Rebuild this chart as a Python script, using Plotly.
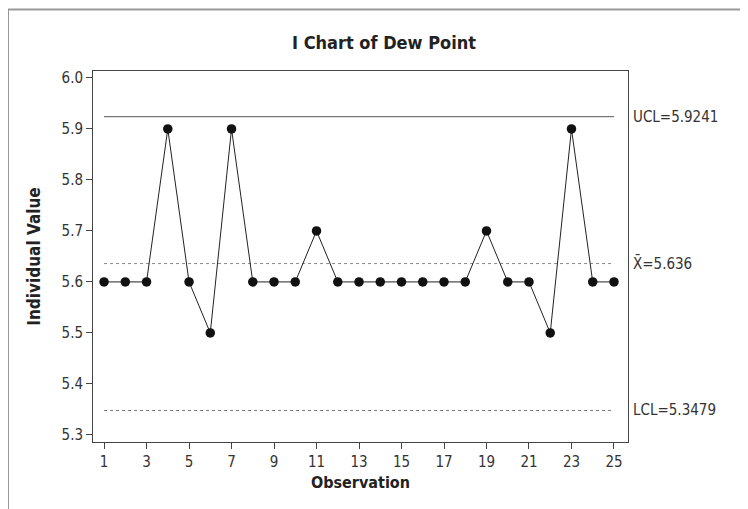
import plotly.graph_objects as go

observations = list(range(1, 26))
values = [5.6, 5.6, 5.6, 5.9, 5.6, 5.5, 5.9, 5.6, 5.6, 5.6, 5.7, 5.6, 5.6,
          5.6, 5.6, 5.6, 5.6, 5.6, 5.7, 5.6, 5.6, 5.5, 5.9, 5.6, 5.6]
ucl = 5.9241
center = 5.636
lcl = 5.3479
x_ticks = list(range(1, 26, 2))
y_ticks = [5.3, 5.4, 5.5, 5.6, 5.7, 5.8, 5.9, 6.0]

FONT = "Liberation Sans Narrow, Arial Narrow, DejaVu Sans Condensed, Liberation Sans, sans-serif"

fig = go.Figure()
# control limit lines
fig.add_trace(go.Scatter(x=[observations[0], observations[-1]], y=[ucl, ucl], mode="lines",
                         line=dict(color="#555555", width=1), hoverinfo="skip", showlegend=False))
fig.add_trace(go.Scatter(x=[observations[0], observations[-1]], y=[center, center], mode="lines",
                         line=dict(color="#888888", width=1, dash="dot"), hoverinfo="skip", showlegend=False))
fig.add_trace(go.Scatter(x=[observations[0], observations[-1]], y=[lcl, lcl], mode="lines",
                         line=dict(color="#777777", width=1, dash="dot"), hoverinfo="skip", showlegend=False))
# data
fig.add_trace(go.Scatter(x=observations, y=values, mode="lines+markers",
                         line=dict(color="#222222", width=1),
                         marker=dict(color="#111111", size=9.5),
                         showlegend=False))

# the page body has an 8px default margin; the figure is sized to fit the window
W, H = 740, 501
ml, mt = 85, 63
pw, ph = 535, 371
mr, mb = W - ml - pw, H - mt - ph


def px(x):
    return (x - ml) / pw


def py(y):
    return (H - mb - y) / ph


shapes = [
    dict(type="line", xref="paper", yref="paper", x0=px(0), x1=px(W), y0=py(1.5), y1=py(1.5),
         line=dict(color="#999999", width=2)),
    dict(type="line", xref="paper", yref="paper", x0=px(0), x1=px(0), y0=py(1.5), y1=py(H),
         line=dict(color="#999999", width=2)),
]

lab_font = dict(family=FONT, size=15, color="#333333")
annotations = [
    dict(text="UCL=5.9241", xref="paper", x=1, xanchor="left", xshift=3, yref="y", y=ucl,
         showarrow=False, font=lab_font),
    dict(text="X\u0304=5.636", xref="paper", x=1, xanchor="left", xshift=3, yref="y", y=center,
         showarrow=False, font=lab_font),
    dict(text="LCL=5.3479", xref="paper", x=1, xanchor="left", xshift=3, yref="y", y=lcl,
         showarrow=False, font=lab_font),
]

fig.update_layout(
    width=W, height=H,
    margin=dict(l=ml, r=mr, t=mt, b=mb),
    paper_bgcolor="white", plot_bgcolor="white",
    title=dict(text="<b>I Chart of Dew Point</b>", xref="container", x=376 / W, xanchor="center",
               y=1 - 35 / H, yanchor="middle",
               font=dict(family=FONT, size=18, color="#222222")),
    xaxis=dict(range=[0.48, 25.66], tickmode="array", tickvals=x_ticks,
               ticks="outside", ticklen=6, tickcolor="#444444",
               showline=True, linecolor="#444444", linewidth=1, mirror=True,
               showgrid=False, zeroline=False,
               tickfont=dict(family=FONT, size=15, color="#333333"),
               title=dict(text="<b>Observation</b>", standoff=6,
                          font=dict(family=FONT, size=16, color="#222222"))),
    yaxis=dict(range=[5.286, 6.0137], tickmode="array", tickvals=y_ticks,
               tickformat=".1f",
               ticks="outside", ticklen=6, tickcolor="#444444",
               showline=True, linecolor="#444444", linewidth=1, mirror=True,
               showgrid=False, zeroline=False,
               tickfont=dict(family=FONT, size=15, color="#333333"),
               title=dict(text="<b>Individual Value</b>", standoff=16,
                          font=dict(family=FONT, size=17, color="#222222"))),
    shapes=shapes,
    annotations=annotations,
)

fig.write_html("out.html")
